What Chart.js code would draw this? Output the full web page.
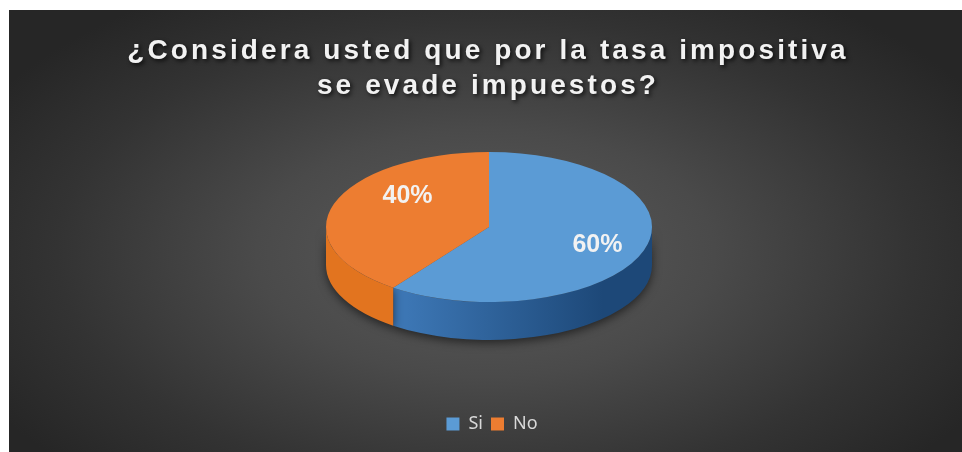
<!DOCTYPE html>
<html>
<head>
<meta charset="utf-8">
<script src="https://cdn.jsdelivr.net/npm/chart.js@4/dist/chart.umd.min.js"></script>
<style>
  html, body { margin: 0; padding: 0; background: #fff; }
  #wrap { position: relative; width: 962px; height: 452px; overflow: hidden; }
  #bg {
    position: absolute; left: 9px; top: 10px; width: 953px; height: 442px;
    background: radial-gradient(ellipse 60% 70% at 50% 55%, #5c5c5c 0%, #4a4a4a 40%, #333 75%, #262626 100%);
  }
  #title {
    position: absolute; left: 7px; top: 32px; width: 962px; text-align: center;
    font: bold 28px "Liberation Sans", Arial, sans-serif; letter-spacing: 3.1px;
    line-height: 35px; color: #f2f2f2; text-shadow: 2px 2px 4px rgba(0,0,0,0.75);
  }
  canvas { position: absolute; left: 0; top: 0; }
</style>
</head>
<body>
<div id="wrap">
  <div id="bg"></div>
  <canvas id="chart" width="962" height="452"></canvas>
  <div id="title">¿Considera usted que por la tasa impositiva<br>se evade impuestos?</div>
</div>
<script>
const categories = ['Si', 'No'];
const values = [60, 40];
const sliceColors = ['#5b9bd5', '#ed7d31'];
const topLight = ['#68a6e2', '#f48b3c'];
const topDark = ['#4187ce', '#e9741f'];
const sideLight = ['#3c76b4', '#e2741f'];
const sideDark = ['#1d4878', '#c9661a'];

// where the ellipse sits on the page
const pie = { cx: 489, cy: 227, rx: 163, ry: 75, depth: 38 };

function topFill(ctx) {
    const el = ctx.element;
    if (!el || el.outerRadius == null) return sliceColors[ctx.dataIndex];
    const g = ctx.chart.ctx.createLinearGradient(0, el.y - el.outerRadius, 0, el.y + el.outerRadius);
    g.addColorStop(0, topLight[ctx.dataIndex]);
    g.addColorStop(1, topDark[ctx.dataIndex]);
    return g;
}

function frontPart(a1, a2) {
    // part of [a1, a2] that falls on the front half (0..PI, mod 2PI)
    const out = [];
    for (let k = -1; k <= 1; k++) {
        const lo = Math.max(a1, k * 2 * Math.PI);
        const hi = Math.min(a2, k * 2 * Math.PI + Math.PI);
        if (hi > lo) out.push([lo, hi]);
    }
    return out;
}

const pie3d = {
    id: 'pie3d',
    beforeDatasetsDraw(chart) {
        const ctx = chart.ctx;
        const arcs = chart.getDatasetMeta(0).data;
        const { cx, cy, rx, ry, depth } = pie;

        // the side wall
        ctx.save();
        arcs.forEach((arc, i) => {
            frontPart(arc.startAngle, arc.endAngle).forEach(([b1, b2]) => {
                const g = ctx.createLinearGradient(cx - rx, 0, cx + rx, 0);
                g.addColorStop(0, sideLight[i]);
                g.addColorStop(0.25, sideLight[i]);
                g.addColorStop(0.85, sideDark[i]);
                g.addColorStop(1, sideDark[i]);
                ctx.beginPath();
                ctx.ellipse(cx, cy, rx, ry, 0, b1, b2, false);
                ctx.lineTo(cx + rx * Math.cos(b2), cy + depth + ry * Math.sin(b2));
                ctx.ellipse(cx, cy + depth, rx, ry, 0, b2, b1, true);
                ctx.closePath();
                ctx.shadowColor = 'rgba(0,0,0,0.55)';
                ctx.shadowBlur = 10;
                ctx.shadowOffsetY = 3;
                ctx.fillStyle = g;
                ctx.fill();
            });
        });
        ctx.restore();

        // squash the library's arcs into the top face
        const a = arcs[0];
        const s = rx / a.outerRadius;
        ctx.save();
        ctx.translate(cx, cy);
        ctx.scale(s, s * ry / rx);
        ctx.translate(-a.x, -a.y);
    },
    afterDatasetsDraw(chart, args, opts) {
        const ctx = chart.ctx;
        ctx.restore();
        const ds = chart.data.datasets[0];
        const total = ds.data.reduce((p, v) => p + v, 0);
        ctx.save();
        ctx.font = 'bold 25px "Liberation Sans", Arial, sans-serif';
        ctx.fillStyle = '#f2f2f2';
        ctx.textAlign = 'center';
        ctx.textBaseline = 'middle';
        ds.data.forEach((v, i) => {
            const p = opts.labelAt[i];
            const x = pie.cx + p[0] * pie.rx;
            const y = pie.cy + p[1] * pie.ry;
            ctx.fillText(Math.round(v / total * 100) + '%', x, y);
        });
        ctx.restore();
    }
};

new Chart(document.getElementById('chart'), {
    type: 'pie',
    data: {
        labels: categories,
        datasets: [{
            data: values,
            backgroundColor: topFill,
            borderWidth: 0,
            clip: false
        }]
    },
    plugins: [pie3d],
    options: {
        responsive: false,
        animation: false,
        events: [],
        layout: { padding: { left: 22, bottom: 9, top: 110 } },
        plugins: {
            title: { display: false },
            tooltip: { enabled: false },
            pie3d: { labelAt: [[0.665, 0.24], [-0.50, -0.41]] },
            legend: {
                position: 'bottom',
                labels: {
                    boxWidth: 13,
                    boxHeight: 13,
                    padding: 8,
                    color: '#d9d9d9',
                    font: { family: '"Noto Sans", sans-serif', size: 18 },
                    generateLabels(chart) {
                        return chart.data.labels.map((l, i) => ({
                            text: l,
                            fillStyle: sliceColors[i],
                            strokeStyle: sliceColors[i],
                            lineWidth: 0,
                            fontColor: '#d9d9d9',
                            index: i
                        }));
                    }
                }
            }
        }
    }
});
</script>
</body>
</html>
